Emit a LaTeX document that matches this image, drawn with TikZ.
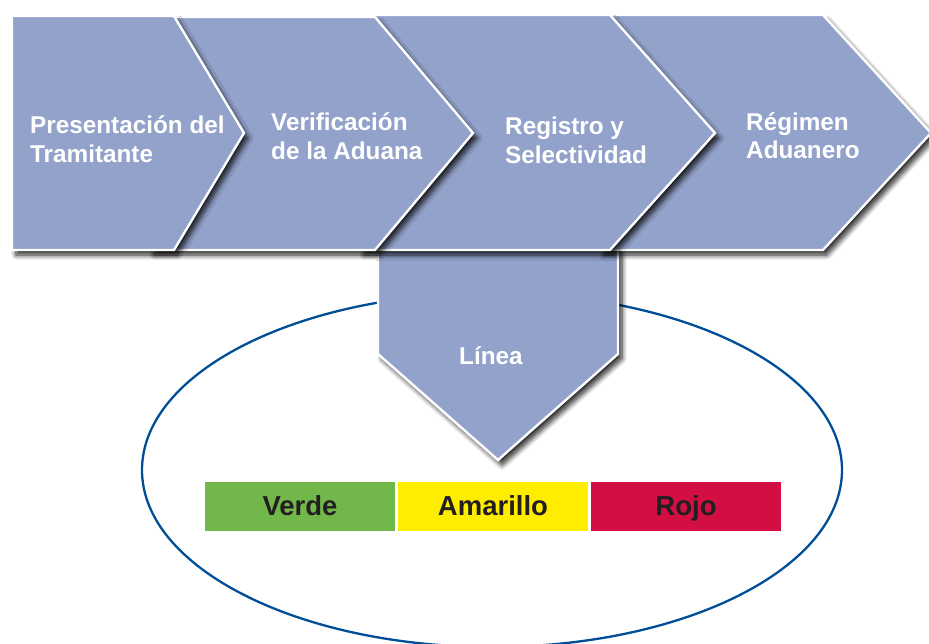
\documentclass[tikz,border=0pt]{standalone}
\usepackage{fontspec}
\setmainfont{Liberation Sans}
\usetikzlibrary{shadows.blur}
\definecolor{chev}{RGB}{147,162,203}
\definecolor{ringblue}{RGB}{0,78,152}
\definecolor{verde}{RGB}{114,183,74}
\definecolor{amar}{RGB}{255,237,0}
\definecolor{rojo}{RGB}{210,14,66}
\definecolor{txtdark}{RGB}{35,31,32}
\begin{document}
\begin{tikzpicture}[x=1pt,y=-1pt,
  chevshape/.style={fill=chev, draw=white, line width=2.4pt, line join=miter,
    blur shadow={shadow xshift=4pt, shadow yshift=-5pt, shadow blur steps=8, shadow blur radius=5pt, shadow opacity=85}},
  chevtext/.style={text=white, font=\bfseries\fontsize{24.3}{28}\selectfont, anchor=base west, inner sep=0pt},
  barbox/.style={minimum width=190pt, minimum height=49pt, inner sep=0pt, text=txtdark,
    text height=20pt, text depth=3pt, font=\bfseries\fontsize{27.5}{30}\selectfont},
  ring/.style={draw=ringblue, line width=2.3pt}]
\useasboundingbox (0,0) rectangle (929,643);
% ellipse
\draw[ring] (492,470) ellipse [x radius=350pt, y radius=177pt];
% bars
\node[barbox, fill=verde] (verde) at (300,506.5) {Verde};
\node[barbox, fill=amar] (amarillo) at (493,506.5) {Amarillo};
\node[barbox, fill=rojo] (rojo) at (686,506.5) {Rojo};
% Linea pentagon
\path[chevshape] (378,235) -- (618,235) -- (618,354) -- (498,460) -- (378,354) -- cycle;
\node[chevtext] (linea) at (459,364) {Línea};
% chevrons, back to front
\path[chevshape] (600,15) -- (823,15) -- (931,133) -- (823,250) -- (600,250) -- cycle;
\path[chevshape] (360,15) -- (610,15) -- (715,133) -- (610,250) -- (360,250) -- cycle;
\path[chevshape] (150,17) -- (375,17) -- (473,133) -- (375,250) -- (150,250) -- cycle;
\path[chevshape] (12,16) -- (174,16) -- (244,133) -- (174,250) -- (12,250) -- cycle;
% chevron texts
\node[chevtext] (c1a) at (30,133) {Presentación del};
\node[chevtext] (c1b) at (30,162) {Tramitante};
\node[chevtext] (c2a) at (271,130) {Verificación};
\node[chevtext] (c2b) at (271,159) {de la Aduana};
\node[chevtext] (c3a) at (505,134) {Registro y};
\node[chevtext] (c3b) at (505,163) {Selectividad};
\node[chevtext] (c4a) at (746,130) {Régimen};
\node[chevtext] (c4b) at (746,158) {Aduanero};
\end{tikzpicture}
\end{document}
